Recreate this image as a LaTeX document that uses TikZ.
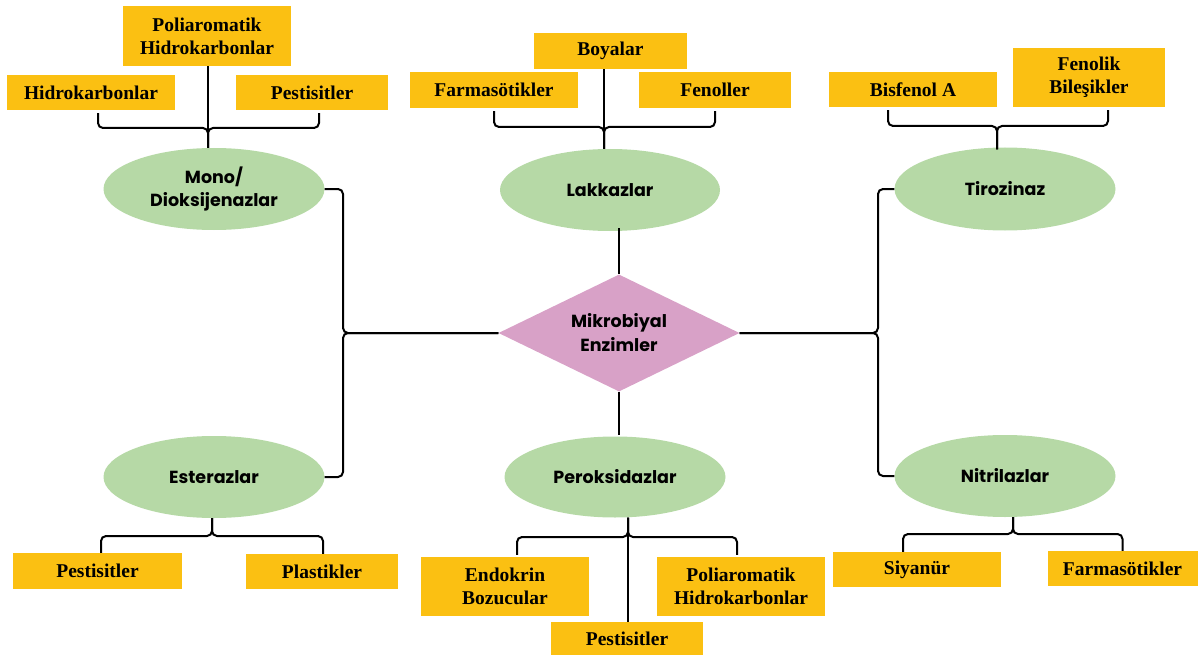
\documentclass[tikz,border=0pt]{standalone}
\usepackage{fontspec}
\setmainfont{Liberation Serif}
\newfontfamily\ellfont{Poppins}
\usetikzlibrary{shapes.geometric}
\definecolor{boxY}{HTML}{FBC012}
\definecolor{ellG}{HTML}{B6D9A6}
\definecolor{diaP}{HTML}{D8A1C7}
\tikzset{
  box/.style={fill=boxY, inner sep=0pt, align=center, font=\fontsize{19.5}{23}\selectfont\bfseries},
  ell/.style={ellipse, fill=ellG, inner sep=0pt, align=center, font=\ellfont\bfseries\fontsize{17.5}{23}\selectfont},
  dia/.style={diamond, aspect=2, fill=diaP, inner sep=0pt, align=center, font=\ellfont\bfseries\fontsize{17.5}{24}\selectfont},
  wire/.style={draw=black, line width=2pt, rounded corners=5pt}
}
\begin{document}
\begin{tikzpicture}[x=1pt,y=-1pt]
\useasboundingbox (0,0) rectangle (1198,655);
% top-left group
\node[box, minimum width=168pt, minimum height=60pt] (pah1) at (207,36) {Poliaromatik\\Hidrokarbonlar};
\node[box, minimum width=168pt, minimum height=35pt] (hk1) at (91,92.5) {Hidrokarbonlar};
\node[box, minimum width=152pt, minimum height=35pt] (pest1) at (312,92.5) {Pestisitler};
\node[ell, minimum width=221pt, minimum height=82pt] (mono) at (214,189) {Mono/\\Dioksijenazlar};
% top-center group
\node[box, minimum width=153pt, minimum height=36pt] (boy) at (610.5,51) {Boyalar};
\node[box, minimum width=168pt, minimum height=36pt] (farm1) at (494,90) {Farmasötikler};
\node[box, minimum width=152pt, minimum height=36pt] (fen) at (715,90) {Fenoller};
\node[ell, minimum width=220pt, minimum height=82pt] (lak) at (610,190) {Lakkazlar};
% top-right group
\node[box, minimum width=168pt, minimum height=35pt] (bis) at (913,89.5) {Bisfenol A};
\node[box, minimum width=152pt, minimum height=59pt] (fenb) at (1089,77.5) {Fenolik\\Bileşikler};
\node[ell, minimum width=221pt, minimum height=83pt] (tir) at (1005,189) {Tirozinaz};
% centre
\node[dia, minimum width=241pt, minimum height=117pt] (mik) at (619,333) {Mikrobiyal\\Enzimler};
% bottom-left group
\node[ell, minimum width=221pt, minimum height=82pt] (est) at (214,477) {Esterazlar};
\node[box, minimum width=169pt, minimum height=36pt] (pest2) at (97.5,571) {Pestisitler};
\node[box, minimum width=152pt, minimum height=35pt] (plast) at (322,571.5) {Plastikler};
% bottom-center group
\node[ell, minimum width=221pt, minimum height=81pt] (per) at (615,477) {Peroksidazlar};
\node[box, minimum width=168pt, minimum height=59pt] (endo) at (505,586.5) {Endokrin\\Bozucular};
\node[box, minimum width=168pt, minimum height=59pt] (pah2) at (741,586.5) {Poliaromatik\\Hidrokarbonlar};
\node[box, minimum width=152pt, minimum height=33pt] (pest3) at (627,638.5) {Pestisitler};
% bottom-right group
\node[ell, minimum width=221pt, minimum height=82pt] (nit) at (1005,476) {Nitrilazlar};
\node[box, minimum width=168pt, minimum height=35pt] (siy) at (917,569.5) {Siyanür};
\node[box, minimum width=150pt, minimum height=35pt] (farm2) at (1122.5,568.5) {Farmasötikler};

% junction coordinates
\coordinate (mj) at (208,128);
\coordinate (lj) at (604,127);
\coordinate (tj) at (997,126);
\coordinate (cl) at (343,333);
\coordinate (cr) at (878,333);
\coordinate (ej) at (212,536);
\coordinate (pj) at (628,537);
\coordinate (nj) at (1013,534);

% top-left brace
\draw[wire] ([xshift=7pt,yshift=-3pt]hk1.south) |- (mj) -- (mj |- mono.north);
\draw[wire] ([xshift=7pt,yshift=-3pt]pest1.south) |- (mj) -- (mj |- mono.north);
\draw[wire] (mj |- pah1.south) -- (mj |- mono.north);
% top-center brace
\draw[wire] ([yshift=-3pt]farm1.south) |- (lj) -- (lj |- lak.north);
\draw[wire] ([yshift=-3pt]fen.south) |- (lj) -- (lj |- lak.north);
\draw[wire] (lj |- boy.south) -- (lj |- lak.north);
% top-right brace
\draw[wire] ([xshift=-25pt,yshift=-3pt]bis.south) |- (tj) -- ([yshift=-2pt]tj |- tir.north);
\draw[wire] ([xshift=19pt,yshift=-3pt]fenb.south) |- (tj) -- ([yshift=-2pt]tj |- tir.north);
% centre links
\draw[wire] ([yshift=3pt]mik.north |- lak.south) -- (mik.north);
\draw[wire] (mik.south) -- ([yshift=1pt]mik.south |- per.north);
\draw[wire] (mono.east) -| (cl) -- (mik.west);
\draw[wire] (est.east) -| (cl) -- (mik.west);
\draw[wire] (tir.west) -| (cr) -- (mik.east);
\draw[wire] (nit.west) -| (cr) -- (mik.east);
% bottom-left brace
\draw[wire] (ej |- est.south) -- (ej) -| ([xshift=3.5pt]pest2.north);
\draw[wire] (ej |- est.south) -- (ej) -| ([xshift=1pt]plast.north);
% bottom-center brace
\draw[wire] (pj |- per.south) -- (pj) -| ([xshift=12pt,yshift=2pt]endo.north);
\draw[wire] (pj |- per.south) -- (pj) -| ([xshift=-4pt,yshift=2pt]pah2.north);
\draw[wire] (pj |- per.south) -- (pj |- pest3.north);
% bottom-right brace
\draw[wire] (nj |- nit.south) -- (nj) -| ([xshift=-14pt]siy.north);
\draw[wire] (nj |- nit.south) -- (nj) -| (farm2.north);
\end{tikzpicture}
\end{document}
